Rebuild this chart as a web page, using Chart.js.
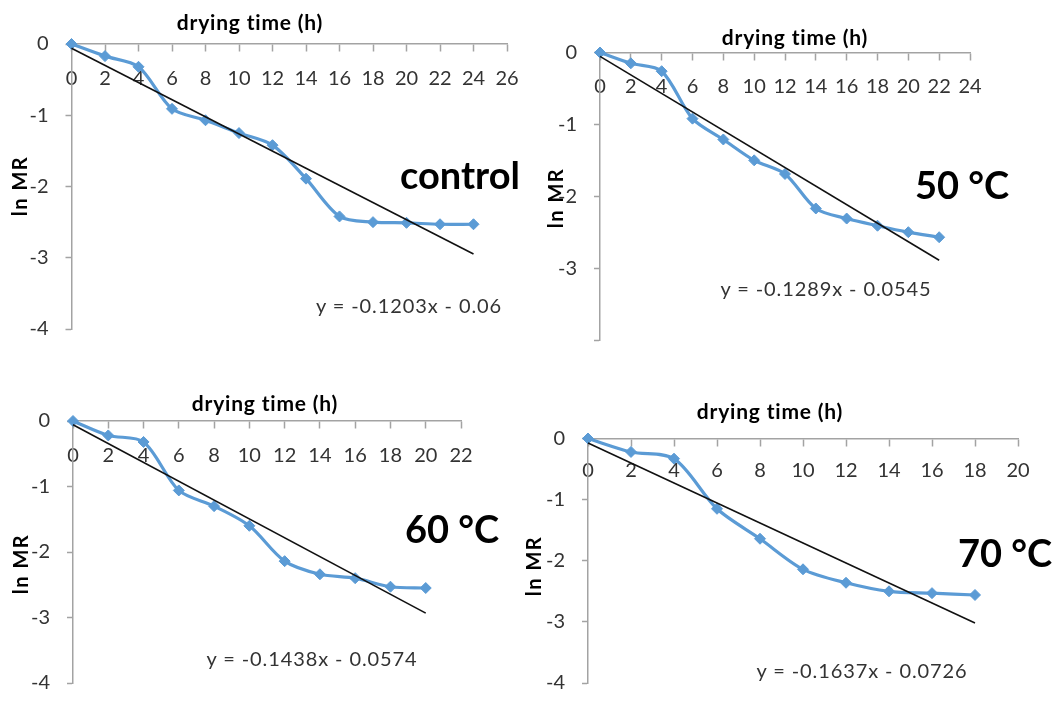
<!DOCTYPE html>
<html>
<head>
<meta charset="utf-8">
<title>ln MR vs drying time</title>
<script src="https://cdn.jsdelivr.net/npm/chart.js@4.4.1/dist/chart.umd.min.js"></script>
<style>
  html, body { margin: 0; padding: 0; background: #fff; }
  #page { position: relative; width: 1061px; height: 712px; overflow: hidden; background: #fff; }
  #page canvas { position: absolute; left: 0; top: 0; }
  .t { position: absolute; transform: translate(-50%, -50%); white-space: nowrap;
       font-family: Lato, "Open Sans", sans-serif; line-height: 1; color: #000; }
  .axis { font-weight: 700; font-size: 21px; letter-spacing: 0.8px; }
  .ylab { font-weight: 700; font-size: 20px; letter-spacing: 1.5px;
          transform: translate(-50%, -50%) rotate(-90deg); }
  .big { font-weight: 700; font-size: 38px; }
  .eq { font-size: 20px; letter-spacing: 0.9px; color: #333; }
</style>
</head>
<body>
<div id="page">
  <canvas id="cControl" width="1061" height="712"></canvas>
  <canvas id="c50" width="1061" height="712"></canvas>
  <canvas id="c60" width="1061" height="712"></canvas>
  <canvas id="c70" width="1061" height="712"></canvas>

  <div class="t axis" style="left:250px;top:21px">drying time (h)</div>
  <div class="t axis" style="left:795px;top:36px">drying time (h)</div>
  <div class="t axis" style="left:265px;top:402px">drying time (h)</div>
  <div class="t axis" style="left:770px;top:410px">drying time (h)</div>

  <div class="t ylab" style="left:19px;top:186px">ln MR</div>
  <div class="t ylab" style="left:555px;top:198px">ln MR</div>
  <div class="t ylab" style="left:20px;top:564px">ln MR</div>
  <div class="t ylab" style="left:533px;top:566px">ln MR</div>

  <div class="t big" style="left:460px;top:174px">control</div>
  <div class="t big" style="left:962px;top:184px">50 °C</div>
  <div class="t big" style="left:452px;top:528px">60 °C</div>
  <div class="t big" style="left:1005px;top:552px">70 °C</div>

  <div class="t eq" style="left:409px;top:305px">y = -0.1203x - 0.06</div>
  <div class="t eq" style="left:826px;top:288px">y = -0.1289x - 0.0545</div>
  <div class="t eq" style="left:312px;top:658px">y = -0.1438x - 0.0574</div>
  <div class="t eq" style="left:862px;top:670px">y = -0.1637x - 0.0726</div>
</div>

<script>
// drying time (h) sampled every 2 h
const hoursControl = [0, 2, 4, 6, 8, 10, 12, 14, 16, 18, 20, 22, 24];
const hours50 = [0, 2, 4, 6, 8, 10, 12, 14, 16, 18, 20, 22];
const hours60 = [0, 2, 4, 6, 8, 10, 12, 14, 16, 18, 20];
const hours70 = [0, 2, 4, 6, 8, 10, 12, 14, 16, 18];

// ln MR measured at each time
const lnMRControl = [0, -0.17, -0.32, -0.91, -1.07, -1.25, -1.42, -1.89, -2.42, -2.50, -2.51, -2.53, -2.53];
const lnMR50 = [0, -0.15, -0.26, -0.92, -1.21, -1.50, -1.69, -2.17, -2.31, -2.41, -2.50, -2.57];
const lnMR60 = [0, -0.22, -0.32, -1.06, -1.30, -1.60, -2.14, -2.34, -2.40, -2.53, -2.55];
const lnMR70 = [0, -0.22, -0.33, -1.15, -1.64, -2.14, -2.36, -2.50, -2.53, -2.56];

// linear fits: [slope, intercept]
const fitControl = [-0.1203, -0.06];
const fit50 = [-0.1289, -0.0545];
const fit60 = [-0.1438, -0.0574];
const fit70 = [-0.1637, -0.0726];

// axis extents and tick labels (top to bottom)
const xMaxControl = 26, xMax50 = 24, xMax60 = 22, xMax70 = 20;
const yTickLabels = ['0', '-1', '-2', '-3', '-4'];
const yTickLabels50 = ['0', '-1', '-2', '-3', ''];

const W = 1061, H = 712;
const AXIS_GREY = '#a3a3a3';
const TICK_TEXT = '#333';
Chart.defaults.font.family = 'Lato, "Open Sans", sans-serif';

function makePanel(id, xs, ys, fit, xMax, yLabels, area, xPad) {
  const points = xs.map((x, i) => ({ x: x, y: ys[i] }));
  const xEnd = xs[xs.length - 1];
  const trend = [
    { x: 0, y: fit[1] },
    { x: xEnd, y: fit[0] * xEnd + fit[1] }
  ];
  new Chart(document.getElementById(id), {
    type: 'line',
    data: {
      datasets: [
        { data: trend, borderColor: '#111', borderWidth: 1.6, pointRadius: 0,
          tension: 0, clip: false },
        { data: points, borderColor: '#5b9bd5', backgroundColor: '#5b9bd5',
          borderWidth: 3.2, pointStyle: 'rectRot', pointRadius: 5.5,
          pointBorderWidth: 1, tension: 0.3, clip: false }
      ]
    },
    options: {
      responsive: false,
      animation: false,
      events: [],
      layout: { padding: { left: area.l - 60, top: area.t, right: W - area.r, bottom: H - area.b } },
      plugins: { legend: { display: false }, tooltip: { enabled: false } },
      scales: {
        x: {
          type: 'linear', position: { y: 0 }, min: 0, max: xMax,
          ticks: { stepSize: 2, autoSkip: false, maxRotation: 0, padding: xPad,
                   color: TICK_TEXT, font: { size: 20 } },
          grid: { drawOnChartArea: false, drawTicks: true, tickLength: 7,
                  tickColor: AXIS_GREY, tickWidth: 1.5 },
          border: { display: true, color: AXIS_GREY, width: 1.5 }
        },
        y: {
          type: 'linear', position: 'left', min: -4, max: 0,
          afterFit: (s) => { s.width = 60; },
          ticks: { stepSize: 1, padding: 17, color: TICK_TEXT, font: { size: 20 },
                   callback: (v) => yLabels[Math.round(-v)] },
          grid: { drawOnChartArea: false, drawTicks: true, tickLength: 6,
                  tickColor: AXIS_GREY, tickWidth: 1.5 },
          border: { display: true, color: AXIS_GREY, width: 1.5 }
        }
      }
    }
  });
}

function drawAll() {
  makePanel('cControl', hoursControl, lnMRControl, fitControl, xMaxControl, yTickLabels,
            { l: 71.5, t: 44, r: 507, b: 329 }, 15.4);
  makePanel('c50', hours50, lnMR50, fit50, xMax50, yTickLabels50,
            { l: 600, t: 52.5, r: 970, b: 340 }, 15.4);
  makePanel('c60', hours60, lnMR60, fit60, xMax60, yTickLabels,
            { l: 73, t: 421, r: 461, b: 702 }, 16);
  makePanel('c70', hours70, lnMR70, fit70, xMax70, yTickLabels,
            { l: 588, t: 438.5, r: 1018, b: 696 }, 13.4);
}

if (document.fonts && document.fonts.load) {
  Promise.all([
    document.fonts.load('20px Lato'),
    document.fonts.load('700 21px Lato')
  ]).then(drawAll, drawAll);
} else {
  drawAll();
}
</script>
</body>
</html>
